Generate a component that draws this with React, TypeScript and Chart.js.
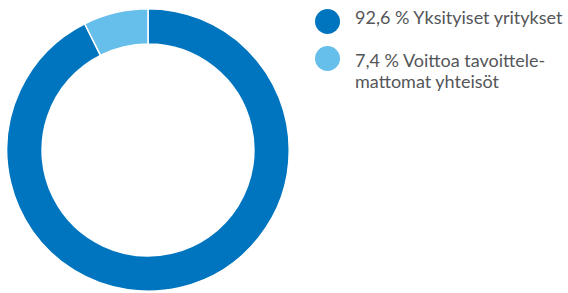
import React, { useEffect, useRef } from "react";
import { Chart, registerables } from "chart.js";

Chart.register(...registerables);

const categories: string[][] = [
  ["92,6 % Yksityiset yritykset"],
  ["7,4 % Voittoa tavoittele-", "mattomat yhteisöt"],
];
const values: number[] = [92.6, 7.4];
const colors: string[] = ["#0075bf", "#66bfeb"];

const markerTops = [9, 46];
const textTops = [7, 50];

export default function App() {
  const ref = useRef<HTMLCanvasElement | null>(null);
  useEffect(() => {
    if (!ref.current) return;
    const chart = new Chart(ref.current, {
      type: "doughnut",
      data: {
        labels: categories.map((c) => c.join(" ")),
        datasets: [
          {
            data: values,
            backgroundColor: colors,
            borderColor: "#ffffff",
            borderWidth: 1.5,
          },
        ],
      },
      options: {
        animation: false,
        responsive: false,
        maintainAspectRatio: false,
        cutout: "75%",
        layout: { padding: 0 },
        plugins: { legend: { display: false }, tooltip: { enabled: false } },
      },
    });
    return () => chart.destroy();
  }, []);

  return (
    <div style={{ position: "fixed", left: 0, top: 0, width: 568, height: 293, background: "#fff", overflow: "hidden" }}>
      <canvas ref={ref} width={284} height={284} style={{ position: "absolute", left: 6, top: 8, width: 284, height: 284 }} />
      {categories.map((lines, i) => (
        <React.Fragment key={i}>
          <div style={{ position: "absolute", left: 315, top: markerTops[i], width: 25, height: 25, borderRadius: "50%", background: colors[i] }} />
          <div style={{ position: "absolute", left: 355, top: textTops[i], fontFamily: "Lato", fontSize: 18, lineHeight: "21px", color: "#555659", whiteSpace: "nowrap" }}>
            {lines.map((l, j) => (
              <div key={j}>{l}</div>
            ))}
          </div>
        </React.Fragment>
      ))}
    </div>
  );
}
